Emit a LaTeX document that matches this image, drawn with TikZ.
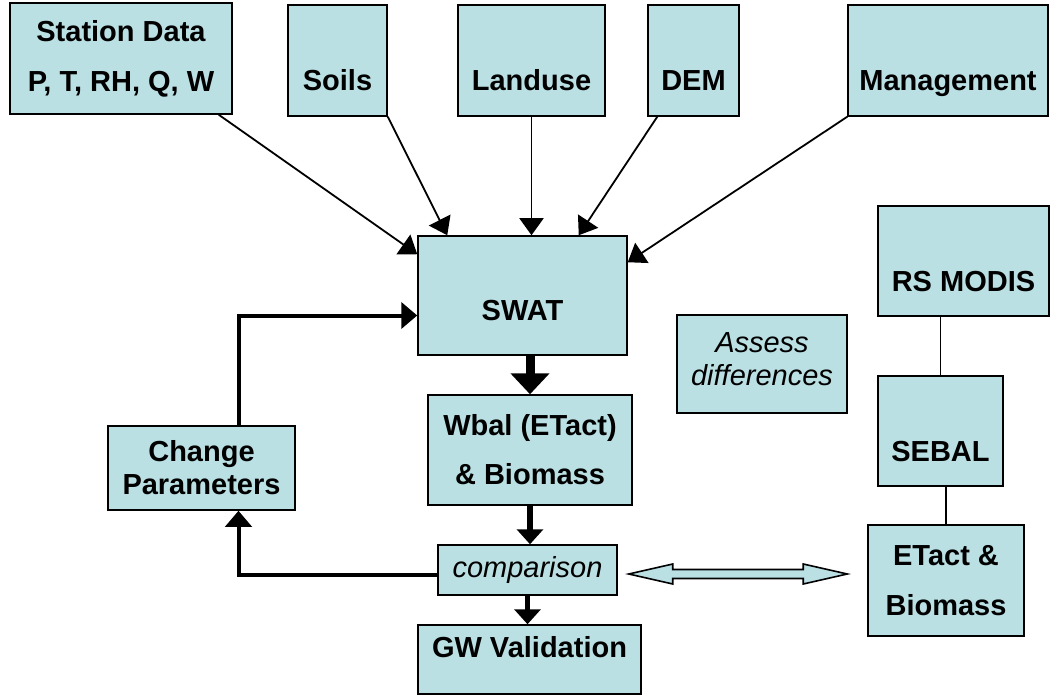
\documentclass[tikz,border=0pt]{standalone}
\usepackage{fontspec}
\setmainfont{Liberation Sans}
\usetikzlibrary{arrows.meta,calc}
\definecolor{boxfill}{RGB}{186,224,228}

\begin{document}
\begin{tikzpicture}[x=1pt,y=-1pt,
    box/.style={draw=black,line width=1.5pt,fill=boxfill,inner sep=0pt,align=center,
      font=\bfseries\fontsize{29}{50}\selectfont},
    lowtext/.style={text height=#1,text depth=0pt},
    thinarr/.style={line width=1.8pt,-{Triangle[length=17pt,width=24pt]}},
    midarr/.style={line width=5.5pt,-{Triangle[length=15pt,width=26pt]}},
    fatarr/.style={line width=9pt,-{Triangle[length=21pt,width=38pt]}},
    looparr/.style={line width=4pt,-{Triangle[length=16pt,width=26pt]}}]
    \useasboundingbox (0,0) rectangle (1050,695);

    % input data
    \node[box,minimum width=222pt,minimum height=111pt] (sta) at (121,58.5) {Station Data\\P, T, RH, Q, W};
    \node[box,lowtext=61pt,minimum width=99pt,minimum height=111pt] (soils) at (337.5,60.5) {Soils};
    \node[box,lowtext=61pt,minimum width=147pt,minimum height=111pt] (land) at (531.5,60.5) {Landuse};
    \node[box,lowtext=61pt,minimum width=91pt,minimum height=111pt] (dem) at (693.5,60.5) {DEM};
    \node[box,lowtext=61pt,minimum width=200pt,minimum height=111pt] (mgmt) at (948,60.5) {Management};

    % model chain
    \node[box,lowtext=50pt,minimum width=209pt,minimum height=119pt] (swat) at (522.5,295.5) {SWAT};
    \node[box,font=\bfseries\fontsize{29}{49}\selectfont,minimum width=204pt,minimum height=110pt] (wbal) at (530,450) {Wbal (ETact)\\\& Biomass};
    \node[box,font=\itshape\fontsize{29}{34}\selectfont,minimum width=179pt,minimum height=50pt] (cmp) at (527.5,570) {comparison};
    \node[box,text height=0pt,text depth=4pt,minimum width=223pt,minimum height=69pt] (gw) at (529.5,659.5) {GW Validation};
    \node[box,font=\bfseries\fontsize{29}{33}\selectfont,minimum width=187pt,minimum height=84pt] (chg) at (201.5,468) {Change\\Parameters};
    \node[box,font=\itshape\fontsize{29}{33}\selectfont,text depth=10pt,minimum width=170pt,minimum height=98pt] (assess) at (762,364) {Assess\\differences};

    % remote sensing
    \node[box,lowtext=60pt,minimum width=171pt,minimum height=110pt] (rs) at (963.5,261) {RS MODIS};
    \node[box,lowtext=61pt,minimum width=125pt,minimum height=110pt] (sebal) at (940.5,431) {SEBAL};
    \node[box,minimum width=156pt,minimum height=111pt] (etb) at (946,580.5) {ETact \&\\Biomass};

    \draw[thinarr] ($(sta.south east)+(-14,0)$) -- ($(swat.north west)+(0,19)$);
    \draw[thinarr] (soils.south east) -- ($(swat.north west)+(30,0)$);
    \draw[thinarr] (land.south) -- (land.south |- swat.north);
    \draw[thinarr] ($(dem.south west)+(10,0)$) -- ($(swat.north east)+(-49,0)$);
    \draw[thinarr] (mgmt.south west) -- ($(swat.north east)+(0,27)$);

    \draw[fatarr] (wbal.north |- swat.south) -- (wbal.north);
    \draw[midarr] (wbal.south) -- (wbal.south |- cmp.north);
    \draw[midarr] (cmp.south) -- (cmp.south |- gw.north);
    \draw[looparr] ($(cmp.west)+(0,5)$) -| ($(chg.south)+(37,0)$);
    \draw[looparr] ($(chg.north)+(37,0)$) |- ($(swat.west)+(0,20)$);

    \draw[line width=1.8pt] (sebal.north |- rs.south) -- (sebal.north);
    \draw[line width=1.8pt] (etb.north |- sebal.south) -- (etb.north);

    % double arrow between comparison and ETact
    \coordinate (dl) at ($(cmp.east)+(11,4)$);
    \coordinate (dr) at ($(etb.west)+(-20,-6.5)$);
    \draw[line width=1.6pt,fill=boxfill] (dl) -- ++(44,-10) -- ++(0,5.5) -- ($(dr)+(-44,-4.5)$) -- ++(0,-5.5)
      -- (dr) -- ++(-44,10) -- ++(0,-5.5) -- ($(dl)+(44,4.5)$) -- ++(0,5.5) -- cycle;
\end{tikzpicture}
\end{document}
